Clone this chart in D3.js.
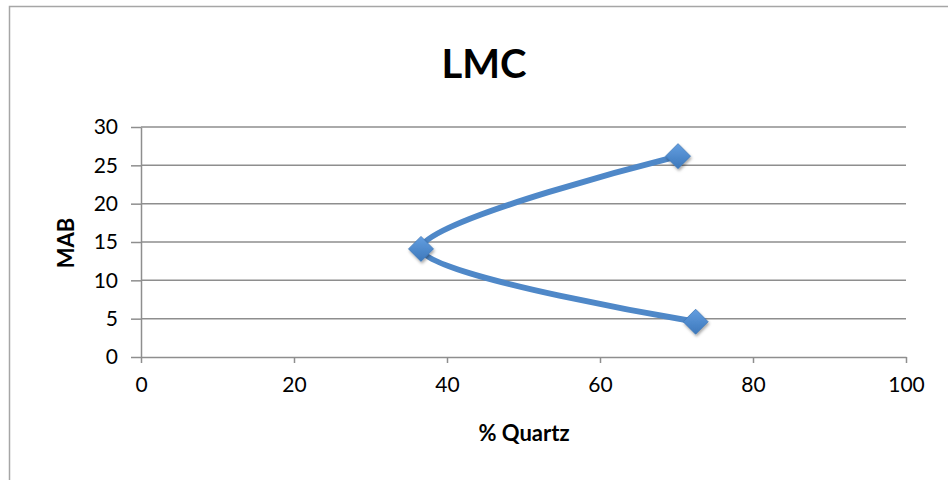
<!DOCTYPE html>
<html>
<head>
<meta charset="utf-8">
<script src="https://cdn.jsdelivr.net/npm/d3@7"></script>
<style>
  html, body { margin: 0; padding: 0; background: #fff; }
  svg { display: block; }
  text { font-family: Lato, "Open Sans", sans-serif; fill: #000; }
</style>
</head>
<body>
<svg id="chart" width="948" height="480"></svg>
<script>
// Sample series: quartz percentage against meters above bed (MAB)
const quartz = [72.5, 36.6, 70.2];
const mab = [4.6, 14.1, 26.2];
const xTicks = [0, 20, 40, 60, 80, 100];
const yTicks = [0, 5, 10, 15, 20, 25, 30];
const title = "LMC";
const xLabel = "% Quartz";
const yLabel = "MAB";

const svg = d3.select("#chart");
const W = 948, H = 480;
const plot = { left: 141, right: 906, top: 127, bottom: 357 };

// chart frame (runs past the right and bottom edges)
svg.append("rect")
  .attr("x", 9.5).attr("y", 6.5)
  .attr("width", W + 20).attr("height", H + 20)
  .attr("fill", "#fff").attr("stroke", "#a6a6a6").attr("stroke-width", 1.5);

const defs = svg.append("defs");
const grad = defs.append("linearGradient").attr("id", "mk")
  .attr("x1", "0").attr("y1", "0").attr("x2", "0").attr("y2", "1");
grad.append("stop").attr("offset", "0%").attr("stop-color", "#639ee0");
grad.append("stop").attr("offset", "100%").attr("stop-color", "#3d78bb");
const sh = defs.append("filter").attr("id", "shadow")
  .attr("x", "-50%").attr("y", "-50%").attr("width", "200%").attr("height", "200%");
sh.append("feDropShadow").attr("dx", 1).attr("dy", 2).attr("stdDeviation", 1.6)
  .attr("flood-color", "#000").attr("flood-opacity", 0.35);

const x = d3.scaleLinear().domain([0, 100]).range([plot.left, plot.right]);
const y = d3.scaleLinear().domain([0, 30]).range([plot.bottom, plot.top]);

// horizontal gridlines
svg.append("g").selectAll("line")
  .data(yTicks.filter(d => d > 0))
  .join("line")
  .attr("x1", plot.left).attr("x2", plot.right)
  .attr("y1", d => y(d)).attr("y2", d => y(d))
  .attr("stroke", "#8e8e8e").attr("stroke-width", 1.5);

// y axis
const yAxis = svg.append("g")
  .attr("transform", `translate(${plot.left},0)`)
  .call(d3.axisLeft(y).tickValues(yTicks).tickSize(10).tickSizeOuter(0).tickPadding(13));
// x axis
const xAxis = svg.append("g")
  .attr("transform", `translate(0,${plot.bottom})`)
  .call(d3.axisBottom(x).tickValues(xTicks).tickSize(6).tickSizeOuter(0).tickPadding(14));

[yAxis, xAxis].forEach(g => {
  g.select(".domain").attr("stroke", "#8e8e8e").attr("stroke-width", 1.5);
  g.selectAll(".tick line").attr("stroke", "#8e8e8e").attr("stroke-width", 1.5);
  g.selectAll(".tick text").style("font-size", "21px").attr("fill", "#000");
});

const pts = quartz.map((q, i) => [q, mab[i]]);

// smoothed series line
svg.append("path")
  .datum(pts)
  .attr("fill", "none")
  .attr("stroke", "#4f88c8")
  .attr("stroke-width", 6)
  .attr("stroke-linecap", "round")
  .attr("d", d3.line().x(d => x(d[0])).y(d => y(d[1])).curve(d3.curveCatmullRom.alpha(0)));

// diamond markers
svg.append("g").selectAll("path")
  .data(pts)
  .join("path")
  .attr("transform", d => `translate(${x(d[0])},${y(d[1])})`)
  .attr("d", "M0,-12.5L12.5,0L0,12.5L-12.5,0Z")
  .attr("fill", "url(#mk)")
  .attr("stroke", "#3f77b8").attr("stroke-width", 0.8)
  .attr("filter", "url(#shadow)");

// titles
svg.append("text")
  .attr("x", 484).attr("y", 78)
  .attr("text-anchor", "middle")
  .style("font-size", "40px").style("font-weight", "bold")
  .text(title);

svg.append("text")
  .attr("x", 524).attr("y", 441)
  .attr("text-anchor", "middle")
  .style("font-size", "22px").style("font-weight", "bold")
  .text(xLabel);

svg.append("text")
  .attr("transform", "translate(74,243) rotate(-90)")
  .attr("text-anchor", "middle")
  .style("font-size", "22px").style("font-weight", "bold")
  .text(yLabel);
</script>
</body>
</html>
